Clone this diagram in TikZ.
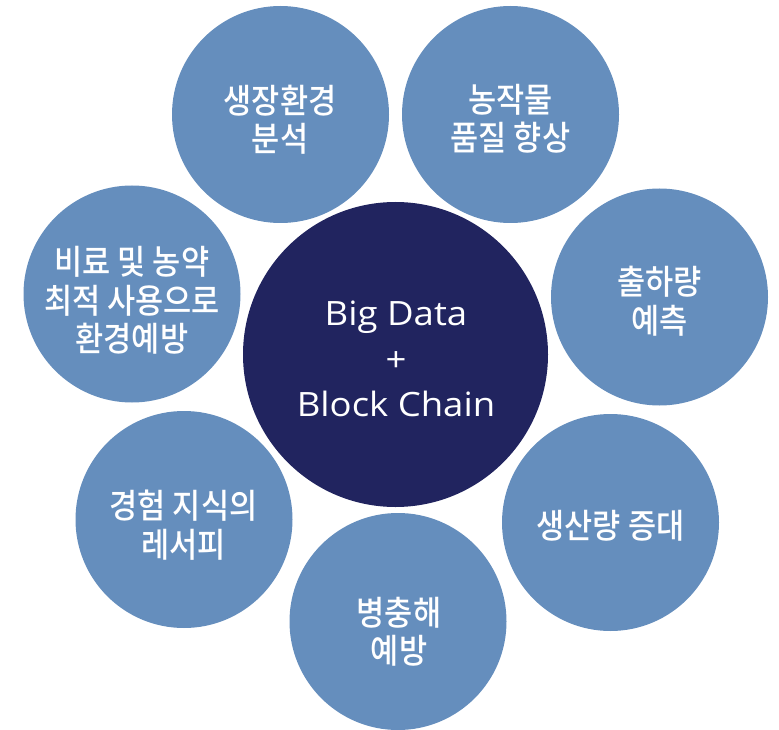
\documentclass[tikz,border=0pt]{standalone}
\usepackage{fontspec}
\setmainfont{Noto Sans CJK KR}
\newfontfamily\korfont[FakeStretch=0.9, UprightFont=* Medium]{Noto Sans CJK KR}
\newfontfamily\latfont[FakeStretch=1.09]{Open Sans}
\definecolor{outerblue}{HTML}{658EBD}
\definecolor{hubnavy}{HTML}{21245F}
\begin{document}
\begin{tikzpicture}[x=1pt,y=-1pt,
  outer/.style={circle, fill=outerblue, minimum size=217pt, inner sep=0pt},
  hub/.style={circle, fill=hubnavy, minimum size=305pt, inner sep=0pt},
  kor/.style={text=white, align=center, inner sep=0pt, font=\korfont\fontsize{34}{38.5}\selectfont},
  lat/.style={text=white, align=center, inner sep=0pt, font=\latfont\fontsize{33.5}{45.5}\selectfont}]
\useasboundingbox (0,0) rectangle (779,730);
% outer circles
\node[outer] (c1) at (280.5,114.5) {};
\node[outer] (c2) at (510.5,114.5) {};
\node[outer] (c3) at (659.5,297) {};
\node[outer] (c4) at (610.5,522.5) {};
\node[outer] (c5) at (398,621.5) {};
\node[outer] (c6) at (184,519.5) {};
\node[outer] (c7) at (132,294) {};
% hub
\node[hub] (hub) at (395.5,354.5) {};
% texts
\node[lat] (thub) at (396,359) {Big Data\\+\\Block Chain};
\node[kor] (t1) at (280,119.5) {생장환경\\분석};
\node[kor] (t2) at (510.5,119) {농작물\\품질 향상};
\node[kor] (t3) at (659.5,301) {출하량\\예측};
\node[kor] (t4) at (610.5,526) {생산량 증대};
\node[kor] (t5) at (399,631.5) {병충해\\예방};
\node[kor] (t6) at (183.5,525) {경험 지식의\\레서피};
\node[kor] (t7) at (132,300.5) {비료 및 농약\\최적 사용으로\\환경예방};
\end{tikzpicture}
\end{document}
